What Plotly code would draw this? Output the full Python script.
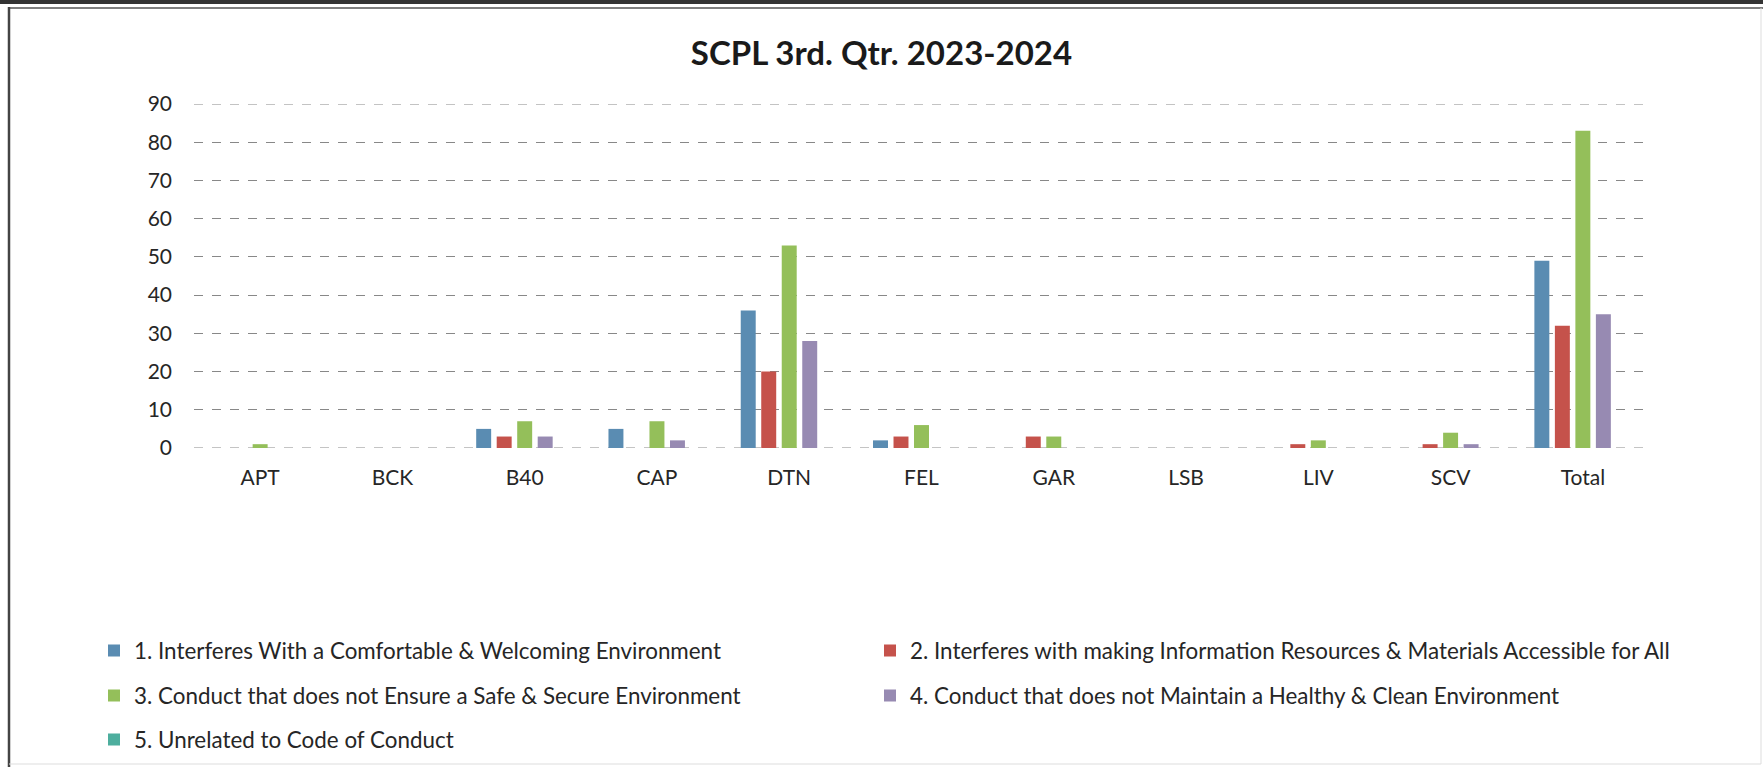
import plotly.graph_objects as go

categories = ["APT", "BCK", "B40", "CAP", "DTN", "FEL", "GAR", "LSB", "LIV", "SCV", "Total"]

series_names = [
    "1. Interferes With a Comfortable & Welcoming Environment",
    "2. Interferes with making Information Resources & Materials Accessible for All",
    "3. Conduct that does not Ensure a Safe & Secure Environment",
    "4. Conduct that does not Maintain a Healthy & Clean Environment",
    "5. Unrelated to Code of Conduct",
]

s1_welcoming = [0, 0, 5, 5, 36, 2, 0, 0, 0, 0, 49]
s2_information = [0, 0, 3, 0, 20, 3, 3, 0, 1, 1, 32]
s3_safe = [1, 0, 7, 7, 53, 6, 3, 0, 2, 4, 83]
s4_clean = [0, 0, 3, 2, 28, 0, 0, 0, 0, 1, 35]
s5_unrelated = [0, 0, 0, 0, 0, 0, 0, 0, 0, 0, 0]

y_ticks = [0, 10, 20, 30, 40, 50, 60, 70, 80, 90]

series_values = [s1_welcoming, s2_information, s3_safe, s4_clean, s5_unrelated]
colors = ["#5A8CB2", "#C5524B", "#94BF5A", "#978AB2", "#4DAE9E"]

W, H = 1763, 767
L, R, T, B = 194, 1649, 104, 448
pw, ph = R - L, B - T

def px_x(x):
    return (x - L) / pw

def px_y(y):
    return (B - y) / ph

FONT = "Lato, 'Open Sans', sans-serif"
TXT = "#262626"

fig = go.Figure()
legend_names = ["legend", "legend2", "legend3", "legend4", "legend5"]
for name, vals, col, lg in zip(series_names, series_values, colors, legend_names):
    fig.add_trace(go.Bar(x=categories, y=vals, name=name, marker_color=col,
                         marker_line_width=0, legend=lg))

leg_pos = [(94, 651), (870, 651), (94, 696), (870, 696), (94, 740)]
legends = {}
for lg, (lx, ly) in zip(legend_names, leg_pos):
    legends[lg] = dict(x=px_x(lx), y=px_y(ly), xanchor="left", yanchor="middle",
                       xref="paper", yref="paper", bgcolor="rgba(0,0,0,0)",
                       font=dict(family=FONT, size=22.4, color=TXT),
                       itemwidth=30, borderwidth=0)

fig.update_layout(
    width=W, height=H,
    margin=dict(l=L, r=W - R, t=T, b=H - B, autoexpand=False),
    paper_bgcolor="white", plot_bgcolor="white",
    barmode="group", bargap=0.225, bargroupgap=0.27,
    title=dict(text="<b>SCPL 3rd. Qtr. 2023-2024</b>", x=0.5, xref="container",
               y=1 - 53 / H, yref="container", xanchor="center", yanchor="middle",
               font=dict(family=FONT, size=33, color="#1a1a1a")),
    font=dict(family=FONT, color=TXT),
    showlegend=True,
    **legends,
)

fig.update_xaxes(showgrid=False, showline=False, zeroline=False, ticks="",
                 tickfont=dict(family=FONT, size=21, color=TXT), ticklabelstandoff=15)
fig.update_yaxes(range=[y_ticks[0], y_ticks[-1]], tickvals=y_ticks, showgrid=True,
                 gridcolor="#888888", griddash="dash", gridwidth=1, zeroline=False,
                 showline=False, ticks="",
                 tickfont=dict(family=FONT, size=21, color=TXT), ticklabelstandoff=21)

# gridlines at the axis boundaries (plotly skips them)
for v in (y_ticks[0], y_ticks[-1]):
    fig.add_shape(type="line", xref="paper", yref="y", x0=0, x1=1, y0=v, y1=v,
                  line=dict(color="#888888", width=1, dash="dash"), layer="below")

# chart frame (scanned border)
fig.add_shape(type="line", xref="paper", yref="paper", x0=px_x(0), x1=px_x(W),
              y0=px_y(2), y1=px_y(2), line=dict(color="#333333", width=4))
fig.add_shape(type="line", xref="paper", yref="paper", x0=px_x(9), x1=px_x(W),
              y0=px_y(8), y1=px_y(8), line=dict(color="#555555", width=1.5))
fig.add_shape(type="line", xref="paper", yref="paper", x0=px_x(9), x1=px_x(9),
              y0=px_y(7), y1=px_y(H), line=dict(color="#444444", width=2.5))
fig.add_shape(type="line", xref="paper", yref="paper", x0=px_x(1761), x1=px_x(1761),
              y0=px_y(8), y1=px_y(764), line=dict(color="#dddddd", width=1))
fig.add_shape(type="line", xref="paper", yref="paper", x0=px_x(9), x1=px_x(1761),
              y0=px_y(764), y1=px_y(764), line=dict(color="#dddddd", width=1))

fig.write_html("out.html", config={"displayModeBar": False},
               post_script="document.body.style.margin='0';")
